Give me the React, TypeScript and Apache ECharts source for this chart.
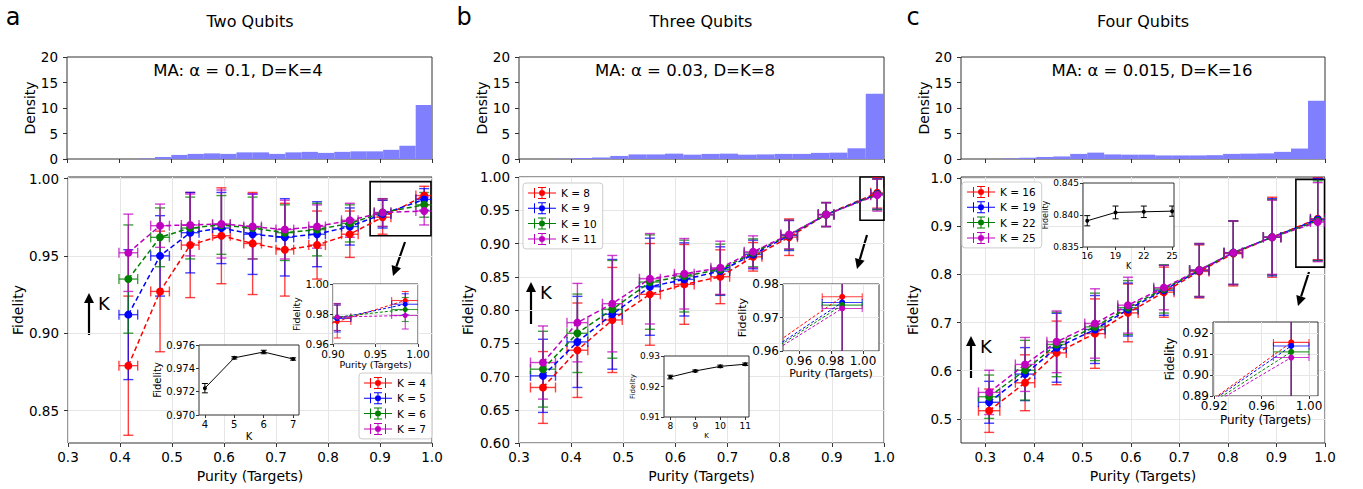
import React, { useEffect, useRef } from 'react';
import * as echarts from 'echarts';

const FONT = 'DejaVu Sans';
const SERIES_COLORS = ['#ff0000', '#0000ff', '#008000', '#bf00bf'];
const HIST_COLOR = '#8080ff';
const LEGEND_ICON =
  'path://M0 5.5H28V6.5H0Z M6 1H7V11H6Z M21 1H22V11H21Z M13.5 0H14.5V12H13.5Z M10 0H18V1H10Z M10 11H18V12H10Z M14 3A3 3 0 1 1 14 9A3 3 0 1 1 14 3Z';

// ---------------- Panel a : Two Qubits ----------------
const namesA = ['K = 4', 'K = 5', 'K = 6', 'K = 7'];
const purityA = [0.416, 0.477, 0.535, 0.595, 0.655, 0.717, 0.779, 0.842, 0.905, 0.985];
const purityErrA = [0.018, 0.018, 0.017, 0.017, 0.017, 0.017, 0.016, 0.016, 0.016, 0.016];
const fidA_K4 = [0.879, 0.927, 0.957, 0.963, 0.958, 0.954, 0.957, 0.964, 0.975, 0.989];
const errA_K4 = [0.045, 0.039, 0.034, 0.031, 0.033, 0.030, 0.022, 0.015, 0.011, 0.006];
const fidA_K5 = [0.912, 0.950, 0.965, 0.968, 0.964, 0.962, 0.964, 0.969, 0.977, 0.9865];
const errA_K5 = [0.042, 0.026, 0.026, 0.023, 0.026, 0.025, 0.021, 0.012, 0.009, 0.007];
const fidA_K6 = [0.935, 0.962, 0.968, 0.970, 0.968, 0.965, 0.967, 0.971, 0.978, 0.983];
const errA_K6 = [0.035, 0.019, 0.020, 0.019, 0.020, 0.018, 0.017, 0.012, 0.009, 0.008];
const fidA_K7 = [0.952, 0.9695, 0.970, 0.9706, 0.969, 0.967, 0.969, 0.973, 0.978, 0.979];
const errA_K7 = [0.025, 0.014, 0.020, 0.022, 0.021, 0.019, 0.014, 0.011, 0.009, 0.009];
const kValsA = [4, 5, 6, 7];
const kFidA = [0.9723, 0.9749, 0.9754, 0.9748];
const kErrA = [0.0004, 0.0001, 0.00015, 0.0001];
const histStartA = 0.4375;
const histWidthA = 0.03125;
const histA = [0.1, 0.4, 0.8, 1.0, 1.1, 1.0, 1.3, 1.3, 1.0, 1.3, 1.4, 1.2, 1.4, 1.5, 1.5, 1.8, 2.6, 10.6];
const boxA = [0.881, 0.963, 0.998, 0.998];

// ---------------- Panel b : Three Qubits ----------------
const namesB = ['K = 8', 'K = 9', 'K = 10', 'K = 11'];
const purityB = [0.346, 0.412, 0.479, 0.551, 0.617, 0.686, 0.749, 0.818, 0.889, 0.987];
const purityErrB = [0.024, 0.020, 0.019, 0.020, 0.019, 0.018, 0.017, 0.016, 0.015, 0.0125];
const fidB_K8 = [0.6835, 0.7395, 0.785, 0.8235, 0.8385, 0.850, 0.880, 0.9095, 0.9435, 0.9762];
const errB_K8 = [0.054, 0.071, 0.079, 0.0765, 0.060, 0.0405, 0.0215, 0.0275, 0.018, 0.023];
const fidB_K9 = [0.701, 0.752, 0.7935, 0.835, 0.846, 0.8585, 0.8835, 0.912, 0.9435, 0.9745];
const errB_K9 = [0.055, 0.0685, 0.0825, 0.073, 0.055, 0.0365, 0.0215, 0.0225, 0.018, 0.023];
const fidB_K10 = [0.711, 0.765, 0.801, 0.842, 0.851, 0.861, 0.886, 0.913, 0.9435, 0.9737];
const errB_K10 = [0.057, 0.059, 0.0735, 0.071, 0.054, 0.038, 0.021, 0.022, 0.018, 0.023];
const fidB_K11 = [0.721, 0.781, 0.8095, 0.847, 0.8545, 0.8635, 0.8875, 0.9135, 0.9435, 0.9727];
const errB_K11 = [0.055, 0.059, 0.0725, 0.068, 0.053, 0.040, 0.024, 0.0215, 0.018, 0.024];
const kValsB = [8, 9, 10, 11];
const kFidB = [0.9231, 0.9251, 0.9266, 0.9273];
const kErrB = [0.0006, 0.0003, 0.0004, 0.0004];
const histStartB = 0.37;
const histWidthB = 0.035;
const histB = [0.05, 0.2, 0.3, 0.6, 0.9, 0.9, 1.05, 0.85, 1.0, 1.05, 0.85, 0.9, 1.0, 1.0, 1.2, 1.25, 2.1, 12.8];
const boxB = [0.954, 0.935, 1.0, 1.0];

// ---------------- Panel c : Four Qubits ----------------
const namesC = ['K = 16', 'K = 19', 'K = 22', 'K = 25'];
const purityC = [0.308, 0.382, 0.447, 0.526, 0.594, 0.668, 0.741, 0.811, 0.891, 0.985];
const purityErrC = [0.022, 0.020, 0.020, 0.021, 0.021, 0.021, 0.020, 0.019, 0.018, 0.015];
const fidC_K16 = [0.517, 0.575, 0.637, 0.677, 0.720, 0.763, 0.806, 0.843, 0.877, 0.9155];
const errC_K16 = [0.045, 0.058, 0.066, 0.072, 0.060, 0.052, 0.055, 0.067, 0.083, 0.085];
const fidC_K19 = [0.5345, 0.593, 0.6476, 0.6855, 0.727, 0.767, 0.808, 0.845, 0.877, 0.9138];
const errC_K19 = [0.0435, 0.055, 0.0715, 0.0705, 0.055, 0.052, 0.055, 0.066, 0.080, 0.085];
const fidC_K22 = [0.546, 0.601, 0.6545, 0.691, 0.731, 0.7697, 0.809, 0.845, 0.877, 0.911];
const errC_K22 = [0.045, 0.062, 0.067, 0.070, 0.056, 0.050, 0.055, 0.066, 0.078, 0.083];
const fidC_K25 = [0.555, 0.613, 0.660, 0.698, 0.736, 0.7724, 0.809, 0.845, 0.877, 0.9083];
const errC_K25 = [0.046, 0.056, 0.064, 0.072, 0.058, 0.046, 0.055, 0.066, 0.077, 0.082];
const kValsC = [16, 19, 22, 25];
const kFidC = [0.8391, 0.8404, 0.8405, 0.8406];
const kErrC = [0.0008, 0.001, 0.0009, 0.0008];
const histStartC = 0.335;
const histWidthC = 0.035;
const histC = [0.1, 0.25, 0.4, 0.5, 1.0, 1.25, 0.9, 0.85, 0.85, 0.7, 0.7, 0.7, 0.75, 1.0, 1.05, 1.1, 1.4, 2.05, 11.4];
const boxC = [0.94, 0.815, 0.999, 0.997];

// ---------------- Tick values ----------------
const xTicksMain = [0.3, 0.4, 0.5, 0.6, 0.7, 0.8, 0.9, 1.0];
const yTicksHist = [0, 5, 10, 15, 20];
const yTicksA = [0.85, 0.9, 0.95, 1.0];
const yTicksB = [0.6, 0.65, 0.7, 0.75, 0.8, 0.85, 0.9, 0.95, 1.0];
const yTicksC = [0.5, 0.6, 0.7, 0.8, 0.9, 1.0];
const xTicksInsetA = [0.9, 0.95, 1.0];
const yTicksInsetA = [0.96, 0.98, 1.0];
const xTicksInsetB = [0.96, 0.98, 1.0];
const yTicksInsetB = [0.96, 0.97, 0.98];
const xTicksInsetC = [0.92, 0.96, 1.0];
const yTicksInsetC = [0.89, 0.9, 0.91, 0.92];
const yTicksKA = [0.97, 0.972, 0.974, 0.976];
const yTicksKB = [0.91, 0.92, 0.93];
const yTicksKC = [0.835, 0.84, 0.845];

type Layout = { left: number; top: number; width: number; height: number };

const panels = [
  {
    names: namesA, xs: purityA, xe: purityErrA,
    ys: [fidA_K4, fidA_K5, fidA_K6, fidA_K7], es: [errA_K4, errA_K5, errA_K6, errA_K7],
    ks: kValsA, kf: kFidA, ke: kErrA, hs: histStartA, hw: histWidthA, hh: histA, box: boxA,
    grids: {
      hist: { left: 67, top: 57, width: 365, height: 102 },
      main: { left: 68, top: 177, width: 364, height: 266 },
      inset: { left: 333, top: 284, width: 85, height: 60 },
      kin: { left: 199, top: 345, width: 100, height: 70 },
    },
    xMin: 0.3, yMin: 0.829, yMax: 1.001, yTicks: yTicksA, yDec: 2, fidGap: 43, denGap: 26,
    inX: [0.9, 1.0], inY: [0.96, 1.0], inXT: xTicksInsetA, inYT: yTicksInsetA, inFs: 10.5, inNameFs: 9.5,
    inXGap: 15, inYGap: 29, inSym: 5,
    kX: [3.8, 7.2], kY: [0.97, 0.976], kYT: yTicksKA, kYDec: 3, kFs: 10, kNameFs: 10, kXGap: 16, kYGap: 37,
    legend: { left: 359, top: 373 },
  },
  {
    names: namesB, xs: purityB, xe: purityErrB,
    ys: [fidB_K8, fidB_K9, fidB_K10, fidB_K11], es: [errB_K8, errB_K9, errB_K10, errB_K11],
    ks: kValsB, kf: kFidB, ke: kErrB, hs: histStartB, hw: histWidthB, hh: histB, box: boxB,
    grids: {
      hist: { left: 519, top: 57, width: 365, height: 102 },
      main: { left: 519, top: 177, width: 365, height: 266 },
      inset: { left: 783, top: 284, width: 96, height: 67 },
      kin: { left: 664, top: 356, width: 85, height: 61 },
    },
    xMin: 0.3, yMin: 0.6, yMax: 1.0, yTicks: yTicksB, yDec: 2, fidGap: 44, denGap: 28,
    inX: [0.95, 1.01], inY: [0.96, 0.98], inXT: xTicksInsetB, inYT: yTicksInsetB, inFs: 12, inNameFs: 11,
    inXGap: 17, inYGap: 31, inSym: 6,
    kX: [7.75, 11.15], kY: [0.91, 0.93], kYT: yTicksKB, kYDec: 2, kFs: 9, kNameFs: 7, kXGap: 15, kYGap: 26,
    legend: { left: 523, top: 183 },
  },
  {
    names: namesC, xs: purityC, xe: purityErrC,
    ys: [fidC_K16, fidC_K19, fidC_K22, fidC_K25], es: [errC_K16, errC_K19, errC_K22, errC_K25],
    ks: kValsC, kf: kFidC, ke: kErrC, hs: histStartC, hw: histWidthC, hh: histC, box: boxC,
    grids: {
      hist: { left: 961, top: 57, width: 364, height: 102 },
      main: { left: 961, top: 177, width: 364, height: 266 },
      inset: { left: 1213, top: 322, width: 105, height: 74 },
      kin: { left: 1083, top: 183, width: 91, height: 64 },
    },
    xMin: 0.25, yMin: 0.45, yMax: 1.002, yTicks: yTicksC, yDec: 1, fidGap: 41, denGap: 25,
    inX: [0.919, 1.0076], inY: [0.89, 0.9252], inXT: xTicksInsetC, inYT: yTicksInsetC, inFs: 12, inNameFs: 12,
    inXGap: 18, inYGap: 37, inSym: 6,
    kX: [15.55, 25.2], kY: [0.835, 0.845], kYT: yTicksKC, kYDec: 3, kFs: 9, kNameFs: 8, kXGap: 15, kYGap: 32,
    legend: { left: 962, top: 182 },
  },
];

function gridOf(l: Layout, z: number) {
  return {
    left: l.left, top: l.top, width: l.width, height: l.height,
    show: true, borderColor: '#333', borderWidth: 1, backgroundColor: '#fff', z,
  };
}

function axis(o: any) {
  const {
    gridIndex, min, max, ticks, dec, fs, margin, name, nameGap, nameFs, split, showLabel = true,
    tickLen = 4, z = 0,
  } = o;
  return {
    type: 'value', gridIndex, min, max, z,
    axisLine: { show: false },
    axisTick: { show: true, length: tickLen, customValues: ticks, lineStyle: { color: '#333', width: 1 } },
    axisLabel: {
      show: showLabel, customValues: ticks, fontSize: fs, margin, color: '#000', fontFamily: FONT,
      formatter: (v: number) => Number(v).toFixed(dec),
    },
    splitLine: { show: !!split, lineStyle: { color: '#e6e6e6', width: 1 } },
    name: name || '', nameLocation: 'middle', nameGap: nameGap || 0,
    nameTextStyle: { fontSize: nameFs || fs, fontFamily: FONT, color: '#000' },
  };
}

function errRender(color: string, capHalf: number, lw: number, opacity: number) {
  return (_params: any, api: any) => {
    const x = api.value(0), y = api.value(1), xe = api.value(2), ye = api.value(3);
    const t = api.coord([x, y + ye]);
    const b = api.coord([x, y - ye]);
    const s = { stroke: color, lineWidth: lw, opacity };
    const ch: any[] = [
      { type: 'line', shape: { x1: t[0], y1: t[1], x2: b[0], y2: b[1] }, style: s },
      { type: 'line', shape: { x1: t[0] - capHalf, y1: t[1], x2: t[0] + capHalf, y2: t[1] }, style: s },
      { type: 'line', shape: { x1: b[0] - capHalf, y1: b[1], x2: b[0] + capHalf, y2: b[1] }, style: s },
    ];
    if (xe > 0) {
      const l = api.coord([x - xe, y]);
      const r = api.coord([x + xe, y]);
      ch.push({ type: 'line', shape: { x1: l[0], y1: l[1], x2: r[0], y2: r[1] }, style: s });
      ch.push({ type: 'line', shape: { x1: l[0], y1: l[1] - capHalf, x2: l[0], y2: l[1] + capHalf }, style: s });
      ch.push({ type: 'line', shape: { x1: r[0], y1: r[1] - capHalf, x2: r[0], y2: r[1] + capHalf }, style: s });
    }
    return { type: 'group', children: ch };
  };
}

function histRender(_params: any, api: any) {
  const p0 = api.coord([api.value(0), api.value(2)]);
  const p1 = api.coord([api.value(1), 0]);
  return {
    type: 'rect',
    shape: { x: p0[0], y: p0[1], width: p1[0] - p0[0], height: p1[1] - p0[1] },
    style: { fill: HIST_COLOR },
  };
}

function arrow(x1: number, y1: number, x2: number, y2: number) {
  const hl = 10, hw = 5;
  const dx = x2 - x1, dy = y2 - y1;
  const L = Math.hypot(dx, dy);
  const ux = dx / L, uy = dy / L;
  const bx = x2 - ux * hl, by = y2 - uy * hl;
  const px = -uy, py = ux;
  return {
    type: 'group', z: 20,
    children: [
      { type: 'line', shape: { x1, y1, x2: bx, y2: by }, style: { stroke: '#000', lineWidth: 2.2 } },
      {
        type: 'polygon',
        shape: { points: [[x2, y2], [bx + px * hw, by + py * hw], [bx - px * hw, by - py * hw]] },
        style: { fill: '#000' },
      },
    ],
  };
}

function txt(text: string, x: number, y: number, fontSize: number, align = 'center') {
  return {
    type: 'text', x, y, z: 20,
    style: {
      text, fontSize, fontFamily: FONT, fill: '#000',
      align, textAlign: align, verticalAlign: 'middle', textVerticalAlign: 'middle',
    },
  };
}

function buildOption() {
  const grids: any[] = [];
  const xAxes: any[] = [];
  const yAxes: any[] = [];
  const series: any[] = [];
  const legends: any[] = [];

  panels.forEach((p, pi) => {
    const base = pi * 4;
    grids.push(gridOf(p.grids.hist, 0));
    grids.push(gridOf(p.grids.main, 0));
    grids.push(gridOf(p.grids.inset, 6));
    grids.push(gridOf(p.grids.kin, 6));

    xAxes.push(axis({ gridIndex: base, min: p.xMin, max: 1.0, ticks: xTicksMain, dec: 1, fs: 13.5, margin: 7, showLabel: false }));
    yAxes.push(axis({ gridIndex: base, min: 0, max: 20, ticks: yTicksHist, dec: 0, fs: 13.5, margin: 9, name: 'Density', nameGap: p.denGap, nameFs: 14 }));
    xAxes.push(axis({ gridIndex: base + 1, min: p.xMin, max: 1.0, ticks: xTicksMain, dec: 1, fs: 13.5, margin: 7, name: 'Purity (Targets)', nameGap: 26, nameFs: 14, split: true }));
    yAxes.push(axis({ gridIndex: base + 1, min: p.yMin, max: p.yMax, ticks: p.yTicks, dec: p.yDec, fs: 13.5, margin: 9, name: 'Fidelity', nameGap: p.fidGap, nameFs: 14, split: true }));
    xAxes.push(axis({ gridIndex: base + 2, min: p.inX[0], max: p.inX[1], ticks: p.inXT, dec: 2, fs: p.inFs, margin: 4, name: 'Purity (Targets)', nameGap: p.inXGap, nameFs: p.inNameFs, split: true, tickLen: 3, z: 7 }));
    yAxes.push(axis({ gridIndex: base + 2, min: p.inY[0], max: p.inY[1], ticks: p.inYT, dec: 2, fs: p.inFs, margin: 4, name: 'Fidelity', nameGap: p.inYGap, nameFs: p.inNameFs, split: true, tickLen: 3, z: 7 }));
    xAxes.push(axis({ gridIndex: base + 3, min: p.kX[0], max: p.kX[1], ticks: p.ks, dec: 0, fs: p.kFs, margin: 4, name: 'K', nameGap: p.kXGap, nameFs: p.kNameFs, tickLen: 3, z: 7 }));
    yAxes.push(axis({ gridIndex: base + 3, min: p.kY[0], max: p.kY[1], ticks: p.kYT, dec: p.kYDec, fs: p.kFs, margin: 4, name: 'Fidelity', nameGap: p.kYGap, nameFs: p.kNameFs, tickLen: 3, z: 7 }));

    series.push({
      type: 'custom', name: `hist ${pi}`, xAxisIndex: base, yAxisIndex: base, clip: true, silent: true, z: 2,
      encode: { x: [0, 1], y: 2 },
      data: p.hh.map((h, i) => [p.hs + i * p.hw, p.hs + (i + 1) * p.hw, h]),
      renderItem: histRender,
    });

    p.names.forEach((name, k) => {
      const color = SERIES_COLORS[k];
      const errData = p.xs.map((x, i) => [x, p.ys[k][i], p.xe[i], p.es[k][i]]);
      const lineData = p.xs.map((x, i) => [x, p.ys[k][i]]);
      series.push({
        type: 'custom', name: `${name} err`, xAxisIndex: base + 1, yAxisIndex: base + 1, clip: true, silent: true, z: 2,
        encode: { x: 0, y: 1 }, data: errData, renderItem: errRender(color, 5, 1.4, 0.75),
      });
      const line: any = {
        type: 'line', name, xAxisIndex: base + 1, yAxisIndex: base + 1, data: lineData, z: 2,
        symbol: 'circle', symbolSize: 8, showSymbol: true, clip: true, silent: true,
        lineStyle: { color, width: 1.5, type: [5, 3] }, itemStyle: { color },
      };
      if (k === 3) {
        line.markArea = {
          silent: true, label: { show: false },
          itemStyle: { color: 'rgba(0,0,0,0)', borderColor: '#000', borderWidth: 1.6 },
          data: [[{ xAxis: p.box[0], yAxis: p.box[3] }, { xAxis: p.box[2], yAxis: p.box[1] }]],
        };
      }
      series.push(line);
    });

    p.names.forEach((name, k) => {
      const color = SERIES_COLORS[k];
      const errData = p.xs.map((x, i) => [x, p.ys[k][i], p.xe[i], p.es[k][i]]);
      const lineData = p.xs.map((x, i) => [x, p.ys[k][i]]);
      series.push({
        type: 'custom', name: `${name} inset err`, xAxisIndex: base + 2, yAxisIndex: base + 2, clip: true, silent: true, z: 8,
        encode: { x: 0, y: 1 }, data: errData, renderItem: errRender(color, 3.5, 1.1, 0.75),
      });
      series.push({
        type: 'line', name: `${name} inset`, xAxisIndex: base + 2, yAxisIndex: base + 2, data: lineData, z: 8,
        symbol: 'circle', symbolSize: p.inSym, showSymbol: true, clip: true, silent: true,
        lineStyle: { color, width: 1, type: [3, 2] }, itemStyle: { color },
      });
    });

    series.push({
      type: 'custom', name: `K err ${pi}`, xAxisIndex: base + 3, yAxisIndex: base + 3, clip: true, silent: true, z: 8,
      encode: { x: 0, y: 1 }, data: p.ks.map((kv, i) => [kv, p.kf[i], 0, p.ke[i]]),
      renderItem: errRender('#000', 3, 1, 1),
    });
    series.push({
      type: 'line', name: `K line ${pi}`, xAxisIndex: base + 3, yAxisIndex: base + 3, z: 8,
      data: p.ks.map((kv, i) => [kv, p.kf[i]]), symbol: 'circle', symbolSize: 4, clip: true, silent: true,
      lineStyle: { color: '#000', width: 1 }, itemStyle: { color: '#000' },
    });

    legends.push({
      data: p.names.map((n) => ({ name: n, icon: LEGEND_ICON })), orient: 'vertical',
      left: p.legend.left, top: p.legend.top,
      itemWidth: 28, itemHeight: 12, itemGap: 3.3, padding: [4, 6, 4, 5],
      backgroundColor: 'rgba(255,255,255,0.85)', borderColor: '#cccccc', borderWidth: 1, borderRadius: 3,
      textStyle: { fontSize: 10.5, fontFamily: FONT, color: '#000' }, selectedMode: false, z: 9,
    });
  });

  const graphic: any[] = [
    txt('a', 13, 17, 24), txt('b', 464, 17, 24), txt('c', 913, 17, 24),
    txt('Two Qubits', 250, 21, 16), txt('Three Qubits', 701, 21, 16), txt('Four Qubits', 1143, 21, 16),
    txt('MA: α = 0.1, D=K=4', 238, 70, 16.5), txt('MA: α = 0.03, D=K=8', 685, 70, 16.5),
    txt('MA: α = 0.015, D=K=16', 1152, 70, 16.5),
    arrow(89, 335, 89, 293), txt('K', 98, 303, 18, 'left'),
    arrow(531, 324, 531, 282), txt('K', 540, 292, 18, 'left'),
    arrow(971, 378, 971, 336), txt('K', 980, 346, 18, 'left'),
    arrow(405, 242, 393, 276), arrow(867, 235, 857, 269), arrow(1309, 272, 1298, 306),
  ];

  return {
    animation: false,
    backgroundColor: '#ffffff',
    textStyle: { fontFamily: FONT },
    grid: grids,
    xAxis: xAxes,
    yAxis: yAxes,
    legend: legends,
    series,
    graphic,
  };
}

export default function App() {
  const ref = useRef<HTMLDivElement>(null);
  useEffect(() => {
    if (!ref.current) return;
    const chart = echarts.init(ref.current, undefined, { renderer: 'svg' });
    chart.setOption(buildOption() as any);
    return () => chart.dispose();
  }, []);
  return (
    <div
      ref={ref}
      style={{ position: 'absolute', left: 0, top: 0, width: 1363, height: 489, background: '#fff' }}
    />
  );
}
